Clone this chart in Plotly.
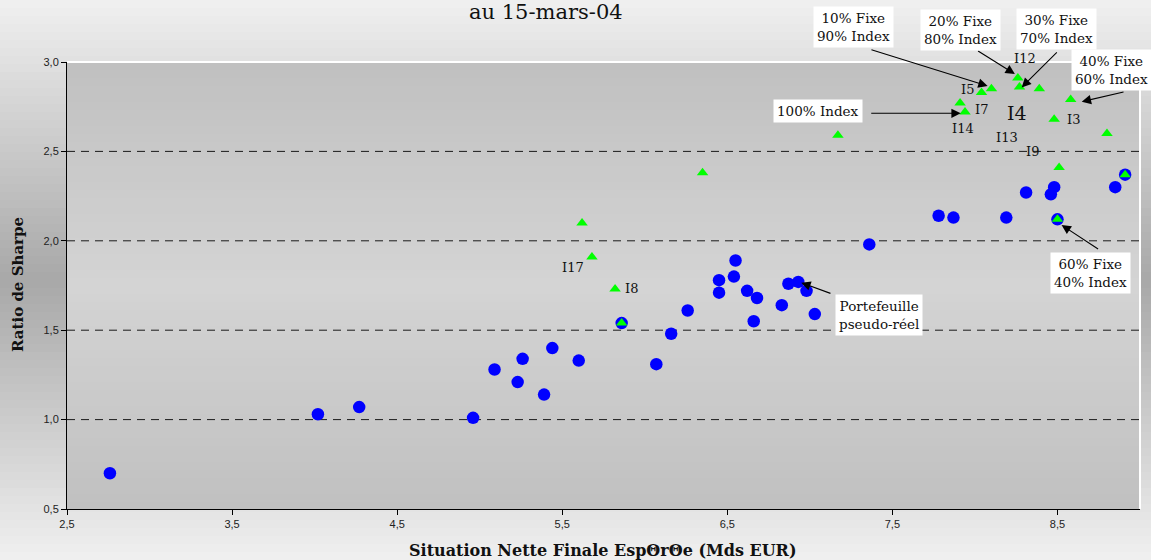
import plotly.graph_objects as go

# Portefeuilles simulés (cercles bleus)
sim_x = [2.76, 4.02, 4.27, 4.96, 5.09, 5.23, 5.26, 5.39, 5.44, 5.60, 5.86, 6.07,
         6.16, 6.26, 6.45, 6.45, 6.54, 6.55, 6.62, 6.66, 6.68, 6.83, 6.87, 6.93,
         6.98, 7.03, 7.36, 7.78, 7.87, 8.19, 8.31, 8.46, 8.48, 8.50, 8.85, 8.91]
sim_y = [0.70, 1.03, 1.07, 1.01, 1.28, 1.21, 1.34, 1.14, 1.40, 1.33, 1.54, 1.31,
         1.48, 1.61, 1.71, 1.78, 1.80, 1.89, 1.72, 1.55, 1.68, 1.64, 1.76, 1.77,
         1.72, 1.59, 1.98, 2.14, 2.13, 2.13, 2.27, 2.26, 2.30, 2.12, 2.30, 2.37]

# Portefeuilles indexés / fixes (triangles verts)
idx_x = [5.62, 5.68, 5.82, 5.86, 6.35, 7.17, 7.91, 7.94, 8.04, 8.10, 8.26, 8.27,
         8.39, 8.48, 8.50, 8.51, 8.58, 8.80, 8.91]
idx_y = [2.10, 1.91, 1.73, 1.54, 2.38, 2.59, 2.77, 2.72, 2.83, 2.85, 2.91, 2.86,
         2.85, 2.68, 2.12, 2.41, 2.79, 2.60, 2.37]

x_ticks = [2.5, 3.5, 4.5, 5.5, 6.5, 7.5, 8.5]
y_ticks = [0.5, 1.0, 1.5, 2.0, 2.5, 3.0]
x_range = [2.5, 9.0]
y_range = [0.5, 3.0]

W, H = 1151, 560
ML, MR, MT, MB = 67, 11, 62, 51
PW, PH = W - ML - MR, H - MT - MB


def px_x(px):
    """Position horizontale en pixels -> coordonnée paper."""
    return (px - ML) / PW


def px_y(py):
    """Position verticale en pixels -> coordonnée paper."""
    return (H - MB - py) / PH


def grey(v):
    v = int(round(v))
    return f"rgb({v},{v},{v})"


shapes = []

# Fond de la figure : dégradé vertical, plus sombre au centre
step = 8
for py in range(0, H, step):
    mid = py + step / 2
    v = 168 + 72 * abs(mid - 280) / 280
    shapes.append(dict(type="rect", xref="paper", yref="paper", layer="below",
                       x0=-ML / PW - 0.01, x1=1 + MR / PW + 0.01,
                       y0=px_y(py + step + 0.5), y1=px_y(py),
                       fillcolor=grey(v), line=dict(width=0)))

# Zone de tracé : dégradé inverse, plus clair au centre
for py in range(MT, H - MB, step):
    top = py
    bot = min(py + step, H - MB)
    mid = (top + bot) / 2
    v = 212 - 20 * abs(mid - (MT + PH / 2)) / (PH / 2)
    shapes.append(dict(type="rect", xref="paper", yref="paper", layer="below",
                       x0=0, x1=1,
                       y0=px_y(min(bot + 0.5, H - MB)), y1=px_y(top),
                       fillcolor=grey(v), line=dict(width=0)))

# Lignes de quadrillage pointillées
for yv in y_ticks[1:-1]:
    shapes.append(dict(type="line", xref="paper", yref="y", layer="below",
                       x0=0, x1=1, y0=yv, y1=yv,
                       line=dict(color="#1a1a1a", width=1, dash="8px,6px")))

# Cadre blanc en haut et à droite
shapes.append(dict(type="line", xref="paper", yref="paper", layer="below",
                   x0=0, x1=1, y0=1, y1=1, line=dict(color="white", width=2)))
shapes.append(dict(type="line", xref="paper", yref="paper", layer="below",
                   x0=1, x1=1, y0=0, y1=1, line=dict(color="white", width=2)))

fig = go.Figure()
fig.add_trace(go.Scatter(x=sim_x, y=sim_y, mode="markers",
                         marker=dict(symbol="circle", size=12.5, color="#0000ff",
                                     line=dict(width=0)),
                         showlegend=False, hoverinfo="x+y"))
fig.add_trace(go.Scatter(x=idx_x, y=idx_y, mode="markers",
                         marker=dict(symbol="triangle-up", size=10, color="#00ff00",
                                     line=dict(width=0)),
                         showlegend=False, hoverinfo="x+y"))

serif = "DejaVu Serif"
annotations = []

# Titre (seconde ligne)
annotations.append(dict(text="au 15-mars-04", xref="paper", yref="paper",
                        x=px_x(546), y=px_y(26),
                        xanchor="center", yanchor="bottom", showarrow=False,
                        font=dict(family=serif, size=21, color="#111")))

# Titres des axes
annotations.append(dict(text="<b>Situation Nette Finale EspΘrΘe (Mds EUR)</b>",
                        xref="paper", yref="paper",
                        x=px_x(602), y=px_y(550),
                        xanchor="center", yanchor="middle", showarrow=False,
                        font=dict(family=serif, size=16, color="#111")))
annotations.append(dict(text="<b>Ratio de Sharpe</b>", xref="paper", yref="paper",
                        x=px_x(18), y=px_y(285), textangle=-90,
                        xanchor="center", yanchor="middle", showarrow=False,
                        font=dict(family=serif, size=15, color="#111")))

# Étiquettes des indices (positions en pixels)
labels = [("I12", 1025, 59, 13), ("I5", 967, 90, 13), ("I7", 981, 110, 13),
          ("I4", 1017, 113, 19), ("I3", 1073, 119, 13), ("I14", 963, 128, 13),
          ("I13", 1007, 137, 13), ("I9", 1032, 151, 13), ("I17", 573, 267, 13),
          ("I8", 631, 288, 13)]
for txt, lx, ly, fs in labels:
    annotations.append(dict(text=txt, x=px_x(lx), y=px_y(ly), xref="paper", yref="paper",
                            showarrow=False, xanchor="center", yanchor="middle",
                            font=dict(family=serif, size=fs, color="#111")))

# Encadrés avec flèches : (texte, centre du texte en px, pointe en données,
# origine de la flèche en px relatifs à la pointe)
callouts = [
    ("10% Fixe<br>90% Index", 853, 27.5, 8.077, 2.866, -117.7, -36.7),
    ("20% Fixe<br>80% Index", 960, 29.5, 8.242, 2.933, -38.3, -24.0),
    ("30% Fixe<br>70% Index", 1056, 29, 8.283, 2.858, 36.7, -36.6),
    ("40% Fixe<br>60% Index", 1111, 70, 8.647, 2.778, 43.3, -10.0),
    ("100% Index", 817.5, 111, 7.914, 2.713, -91.0, 0.0),
    ("Portefeuille<br>pseudo-réel", 879, 314.5, 6.948, 1.766, 30.7, 11.3),
    ("60% Fixe<br>40% Index", 1090, 272.5, 8.525, 2.088, 38.0, 25.0),
]
for txt, tx, ty, hx, hy, ax, ay in callouts:
    annotations.append(dict(text="", x=hx, y=hy, xref="x", yref="y",
                            ax=ax, ay=ay, axref="pixel", ayref="pixel",
                            showarrow=True, arrowhead=2, arrowsize=1.7,
                            arrowwidth=1.1, arrowcolor="black", standoff=0))
for txt, tx, ty, hx, hy, ax, ay in callouts:
    annotations.append(dict(text=txt, x=px_x(tx), y=px_y(ty), xref="paper", yref="paper",
                            showarrow=False, xanchor="center", yanchor="middle",
                            bgcolor="white", borderpad=3,
                            font=dict(family=serif, size=13.5, color="#111")))

fig.update_layout(
    width=W, height=H,
    margin=dict(l=ML, r=MR, t=MT, b=MB, pad=0),
    paper_bgcolor="#e6e6e6", plot_bgcolor="#c8c8c8",
    separators=", ",
    shapes=shapes, annotations=annotations,
    xaxis=dict(range=x_range, tickvals=x_ticks, tickformat=".1f", showgrid=False,
               zeroline=False, showline=True, linecolor="black", linewidth=1,
               ticks="outside", ticklen=5, tickcolor="black",
               tickfont=dict(family="Liberation Sans", size=11, color="#222")),
    yaxis=dict(range=y_range, tickvals=y_ticks, tickformat=".1f", showgrid=False,
               zeroline=False, showline=True, linecolor="black", linewidth=1,
               ticks="outside", ticklen=5, tickcolor="black",
               tickfont=dict(family="Liberation Sans", size=11, color="#222")),
)

fig.write_html("out.html")
